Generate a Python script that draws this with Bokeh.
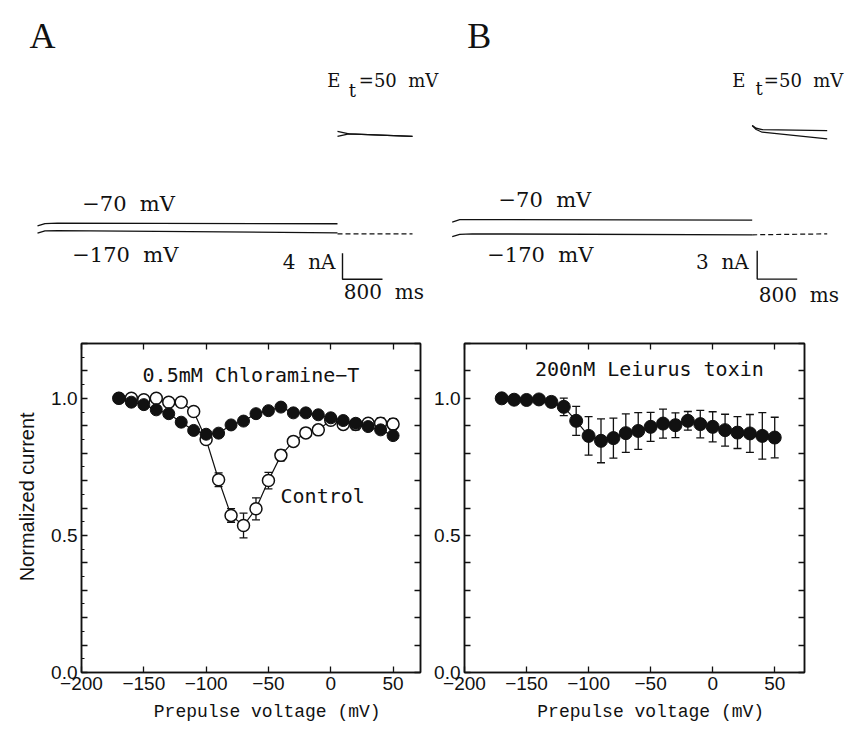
from bokeh.plotting import figure
from bokeh.layouts import column, row
from bokeh.models import (Range1d, LinearAxis, FixedTicker, Whisker, TeeHead,
                          ColumnDataSource, Label, CustomJSTickFormatter)
from bokeh.embed import file_html
from bokeh.resources import INLINE

# ---------------- data: steady-state curves ----------------
voltages = [-170, -160, -150, -140, -130, -120, -110, -100, -90, -80, -70, -60,
            -50, -40, -30, -20, -10, 0, 10, 20, 30, 40, 50]
control = [1.0, 1.0, 0.995, 1.0, 0.986, 0.986, 0.952, 0.85, 0.703, 0.573, 0.536,
           0.597, 0.70, 0.792, 0.843, 0.874, 0.885, 0.92, 0.905, 0.905, 0.909,
           0.909, 0.906]
control_err = [0.005, 0.005, 0.005, 0.005, 0.008, 0.008, 0.012, 0.015, 0.025,
               0.025, 0.045, 0.04, 0.03, 0.02, 0.012, 0.01, 0.01, 0.012, 0.015,
               0.02, 0.015, 0.02, 0.02]
chloramine = [1.0, 0.986, 0.977, 0.958, 0.944, 0.913, 0.883, 0.869, 0.873, 0.903,
              0.917, 0.944, 0.955, 0.968, 0.947, 0.947, 0.94, 0.929, 0.919, 0.909,
              0.897, 0.885, 0.864]
chloramine_err = [0.004, 0.006, 0.006, 0.008, 0.008, 0.008, 0.01, 0.01, 0.012,
                  0.012, 0.01, 0.01, 0.008, 0.008, 0.008, 0.008, 0.008, 0.01,
                  0.01, 0.01, 0.012, 0.012, 0.012]
leiurus = [1.0, 0.995, 0.994, 0.996, 0.987, 0.969, 0.918, 0.863, 0.845, 0.855,
           0.873, 0.881, 0.896, 0.908, 0.902, 0.918, 0.906, 0.896, 0.884, 0.875,
           0.872, 0.863, 0.857]
leiurus_err = [0.0, 0.0, 0.0, 0.006, 0.017, 0.032, 0.053, 0.07, 0.08, 0.073, 0.07,
               0.067, 0.053, 0.053, 0.045, 0.034, 0.05, 0.055, 0.058, 0.058, 0.069,
               0.085, 0.074]

x_ticks = [-200, -150, -100, -50, 0, 50]
y_ticks = [0.0, 0.1, 0.2, 0.3, 0.4, 0.5, 0.6, 0.7, 0.8, 0.9, 1.0, 1.1, 1.2]
y_minor = [0.05, 0.15, 0.25, 0.35, 0.45, 0.55, 0.65, 0.75, 0.85, 0.95, 1.05, 1.15]

# ---------------- data: current traces (ms, nA) ----------------
a_pre_t = [0, 150, 400, 6000]
a_m70 = [1.2, 1.55, 1.63, 1.54]
a_m170 = [0.1, 0.45, 0.5, 0.15]
a_base_t = [6000, 7500]
a_base = [0.0, 0.0]
a_test_t = [6000, 6230, 7500]
a_test1 = [15.75, 15.38, 15.0]
a_test2 = [14.97, 15.38, 15.0]
a_bar_t = [6100, 6100, 6900]
a_bar_i = [-3.0, -7.0, -7.0]

b_pre_t = [0, 150, 400, 6000]
b_m70 = [1.35, 1.6, 1.62, 1.55]
b_m170 = [-0.2, 0.05, 0.1, 0.0]
b_base_t = [6000, 7500]
b_base = [0.0, 0.1]
b_test_t = [6000, 6080, 6200, 7500]
b_test1 = [11.59, 11.3, 11.16, 11.05]
b_test2 = [11.59, 11.17, 10.88, 10.18]
b_bar_t = [6100, 6100, 6900]
b_bar_i = [-1.7, -4.7, -4.7]

INK = "#111111"
SERIF = "DejaVu Serif"
MONO = "DejaVu Sans Mono"
SANS = "Liberation Sans"
NB = "\u00a0"

# ================= top: traces =================
top = figure(width=863, height=330, x_range=Range1d(-740, 16520),
             y_range=Range1d(-14.88, 35.89), output_backend="svg",
             toolbar_location=None, x_axis_location=None, y_axis_location=None,
             min_border=0)
top.extra_x_ranges = {"tb": Range1d(-9034, 8226)}
top.extra_y_ranges = {"ib": Range1d(-10.15, 24.85)}
top.grid.visible = False
top.outline_line_color = None

# panel A traces
top.line(a_pre_t, a_m70, line_color=INK, line_width=1.3)
top.line(a_pre_t, a_m170, line_color=INK, line_width=1.3)
top.line(a_base_t, a_base, line_color=INK, line_width=1.2, line_dash="5 3")
top.line(a_test_t, a_test1, line_color=INK, line_width=1.3)
top.line(a_test_t, a_test2, line_color=INK, line_width=1.3)
top.line(a_bar_t, a_bar_i, line_color=INK, line_width=1.4)

# panel B traces
kw = dict(x_range_name="tb", y_range_name="ib")
top.line(b_pre_t, b_m70, line_color=INK, line_width=1.3, **kw)
top.line(b_pre_t, b_m170, line_color=INK, line_width=1.3, **kw)
top.line(b_base_t, b_base, line_color=INK, line_width=1.2, line_dash="5 3", **kw)
top.line(b_test_t, b_test1, line_color=INK, line_width=1.3, **kw)
top.line(b_test_t, b_test2, line_color=INK, line_width=1.3, **kw)
top.line(b_bar_t, b_bar_i, line_color=INK, line_width=1.4, **kw)


def lab(fig, x, y, text, size, font=SERIF, align="left", dy=7, **extra):
    fig.add_layout(Label(x=x, y=y, text=text, text_font=font,
                         text_font_size=f"{size}px", text_color=INK,
                         text_align=align, text_baseline="alphabetic",
                         y_offset=dy, **extra))


# A texts
lab(top, -160, 29.3, "A", 36, font="Liberation Serif")
lab(top, 5794, 22.5, "E", 18)
lab(top, 6226, 21.0, "t", 18)
lab(top, 6426, 22.5, "=50" + NB + NB + "mV", 18)
lab(top, 894, 3.58, "\u221270" + NB + NB + "mV", 21)
lab(top, 694, -4.37, "\u2212170" + NB + NB + "mV", 21)
lab(top, 5960, -5.38, "4" + NB + NB + "nA", 20, align="right")
lab(top, 6126, -10.0, "800" + NB + NB + "ms", 20)
# B texts
lab(top, 300, 20.29, "B", 36, font="Liberation Serif", **kw)
lab(top, 5600, 15.62, "E", 18, **kw)
lab(top, 6066, 14.77, "t", 18, **kw)
lab(top, 6233, 15.62, "=50" + NB + NB + "mV", 18, **kw)
lab(top, 926, 2.93, "\u221270" + NB + NB + "mV", 21, **kw)
lab(top, 700, -2.9, "\u2212170" + NB + NB + "mV", 21, **kw)
lab(top, 5932, -3.6, "3" + NB + NB + "nA", 20, align="right", **kw)
lab(top, 6132, -7.15, "800" + NB + NB + "ms", 20, **kw)

# ================= bottom: curves =================
xfmt_code = "return tick < 0 ? '\\u2212' + Math.abs(tick) : String(tick);"
yfmt_code = ("return [0, 0.5, 1].some(v => Math.abs(tick - v) < 1e-6) ? "
             "tick.toFixed(1) : '';")
blank_code = "return '';"


def panel(x_end, left, fw, right, ylabel):
    p = figure(frame_width=fw, frame_height=329, min_border_left=left,
               min_border_right=right, min_border_top=13, min_border_bottom=58,
               x_range=Range1d(-200, x_end), y_range=Range1d(0, 1.2),
               output_backend="svg", toolbar_location=None)
    p.grid.visible = False
    p.outline_line_color = INK
    p.outline_line_width = 1.5
    p.background_fill_color = "white"

    xa = p.xaxis[0]
    xa.ticker = FixedTicker(ticks=x_ticks, minor_ticks=[])
    xa.formatter = CustomJSTickFormatter(code=xfmt_code)
    xa.major_tick_in = 6
    xa.major_tick_out = 0
    xa.minor_tick_in = 0
    xa.minor_tick_out = 0
    xa.axis_line_width = 1.5
    xa.axis_line_color = INK
    xa.major_tick_line_color = INK
    xa.major_tick_line_width = 1.3
    xa.major_label_text_font = SANS
    xa.major_label_text_font_size = "19px"
    xa.major_label_text_color = INK
    xa.major_label_standoff = 4
    # title sits slightly right of the frame centre (under -50 mV)
    xa.axis_label = NB * 3 + "Prepulse voltage (mV)"
    xa.axis_label_text_font = "Liberation Mono"
    xa.axis_label_text_font_size = "18px"
    xa.axis_label_text_font_style = "normal"
    xa.axis_label_text_color = INK
    xa.axis_label_standoff = 9

    ya = p.yaxis[0]
    ya.ticker = FixedTicker(ticks=y_ticks, minor_ticks=y_minor if ylabel else [])
    ya.formatter = CustomJSTickFormatter(code=yfmt_code)
    ya.major_tick_in = 6
    ya.major_tick_out = 0
    ya.minor_tick_in = 3
    ya.minor_tick_out = 0
    ya.axis_line_width = 1.5
    ya.axis_line_color = INK
    ya.major_tick_line_color = INK
    ya.major_tick_line_width = 1.3
    ya.minor_tick_line_color = INK
    ya.major_label_text_font = SANS
    ya.major_label_text_font_size = "19px"
    ya.major_label_text_color = INK
    ya.major_label_standoff = 4
    if ylabel:
        # leading spaces lift the rotated title slightly above the frame centre
        ya.axis_label = NB * 4 + ylabel
        ya.axis_label_text_font = SANS
        ya.axis_label_text_font_size = "20px"
        ya.axis_label_text_font_style = "normal"
        ya.axis_label_text_color = INK
        ya.axis_label_standoff = 10

    ta = LinearAxis(ticker=FixedTicker(ticks=x_ticks, minor_ticks=[]),
                    formatter=CustomJSTickFormatter(code=blank_code),
                    major_tick_in=6, major_tick_out=0, minor_tick_in=0,
                    minor_tick_out=0, axis_line_width=1.5, axis_line_color=INK,
                    major_tick_line_color=INK, major_tick_line_width=1.3,
                    major_label_standoff=0, major_label_text_font_size="0px")
    p.add_layout(ta, "above")
    ra = LinearAxis(ticker=FixedTicker(ticks=y_ticks, minor_ticks=[]),
                    formatter=CustomJSTickFormatter(code=blank_code),
                    major_tick_in=6, major_tick_out=0, minor_tick_in=0,
                    minor_tick_out=0, axis_line_width=1.5, axis_line_color=INK,
                    major_tick_line_color=INK, major_tick_line_width=1.3,
                    major_label_standoff=0, major_label_text_font_size="0px")
    p.add_layout(ra, "right")
    return p


def add_whiskers(p, xs, ys, errs):
    src = ColumnDataSource(dict(x=xs, upper=[y + e for y, e in zip(ys, errs)],
                                lower=[y - e for y, e in zip(ys, errs)]))
    w = Whisker(source=src, base="x", upper="upper", lower="lower",
                line_color=INK, line_width=1.3,
                upper_head=TeeHead(size=8, line_color=INK, line_width=1.3),
                lower_head=TeeHead(size=8, line_color=INK, line_width=1.3))
    p.add_layout(w)


# panel A
pa = panel(72, 81, 339, 11, "Normalized current")
add_whiskers(pa, voltages, control, control_err)
add_whiskers(pa, voltages, chloramine, chloramine_err)
pa.line(voltages, control, line_color=INK, line_width=1.2)
pa.scatter(voltages, control, size=12, marker="circle", fill_color="white",
           line_color=INK, line_width=1.5)
pa.line(voltages, chloramine, line_color=INK, line_width=1.2)
pa.scatter(voltages, chloramine, size=12, marker="circle", fill_color=INK,
           line_color=INK, line_width=1.0)
lab(pa, -151, 1.058, "0.5mM Chloramine\u2212T", 20, font=MONO)
lab(pa, -40.3, 0.617, "Control", 20, font=MONO)

# panel B
pb = panel(74, 30, 340, 62, None)
add_whiskers(pb, voltages, leiurus, leiurus_err)
pb.line(voltages, leiurus, line_color=INK, line_width=1.2)
pb.scatter(voltages, leiurus, size=13, marker="circle", fill_color=INK,
           line_color=INK, line_width=1.0)
lab(pb, -143.2, 1.083, "200nM Leiurus toxin", 20, font=MONO)

layout = column(top, row(pa, pb, spacing=0), spacing=0)

open("out.html", "w").write(file_html(layout, INLINE))
